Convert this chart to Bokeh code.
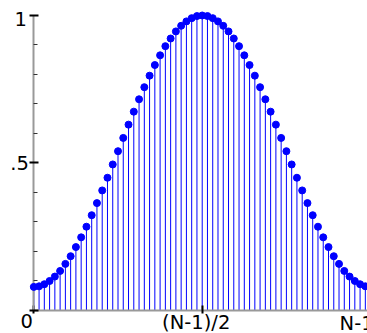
from bokeh.plotting import figure
from bokeh.models import Range1d, FixedTicker, Label
from bokeh.embed import file_html
from bokeh.resources import INLINE

# sample index n = 0 .. N-1 (N = 65)
n_index = list(range(65))
# window values (raised-cosine bell, 0.08 at the ends, 1 at the middle)
half_values = [0.080, 0.082, 0.089, 0.100, 0.115, 0.134, 0.158, 0.184, 0.215, 0.248,
               0.284, 0.323, 0.364, 0.407, 0.450, 0.495, 0.540, 0.585, 0.630, 0.674,
               0.716, 0.757, 0.796, 0.832, 0.865, 0.896, 0.922, 0.946, 0.965, 0.980,
               0.991, 0.998]
peak_value = [1.000]
window_values = half_values + peak_value + half_values[::-1]

x_ticks = [0, 32, 64]
x_tick_labels = ["0", "(N-1)/2", "N-1"]
y_ticks = [0, 0.5, 1]
y_minor_ticks = [0.1, 0.2, 0.3, 0.4, 0.6, 0.7, 0.8, 0.9]
y_tick_labels = ["", ".5", "1"]

BLUE = "#0000ff"
FONT = "DejaVu Sans"
FSIZE = "19.5px"

p = figure(width=367, height=333, output_backend="svg", toolbar_location=None,
           x_range=Range1d(-6.328, 63.41), y_range=Range1d(-0.078, 1.0508),
           min_border_left=0, min_border_right=0, min_border_top=0,
           min_border_bottom=0)
p.outline_line_color = None
p.xgrid.visible = False
p.ygrid.visible = False
p.background_fill_color = "white"
p.border_fill_color = "white"

p.segment(x0=n_index, y0=[0] * len(n_index), x1=n_index, y1=window_values,
          line_color=BLUE, line_width=1)
p.scatter(n_index, window_values, size=7, fill_color=BLUE, line_color=BLUE,
          level="overlay")

# y axis at x = 0
ya = p.yaxis[0]
ya.fixed_location = 0
ya.bounds = (0, 1)
ya.ticker = FixedTicker(ticks=y_ticks, minor_ticks=y_minor_ticks)
ya.axis_line_color = "#999999"
ya.axis_line_width = 2
ya.major_tick_line_color = "black"
ya.major_tick_line_width = 2
ya.major_tick_in = 5
ya.major_tick_out = 4
ya.minor_tick_line_color = "#333333"
ya.minor_tick_line_width = 1
ya.minor_tick_in = 4
ya.minor_tick_out = 0
ya.major_label_overrides = {t: "" for t in y_ticks}

# x axis at y = 0
xa = p.xaxis[0]
xa.fixed_location = 0
xa.bounds = (0, 64)
xa.ticker = FixedTicker(ticks=x_ticks, minor_ticks=[])
xa.axis_line_color = "#999999"
xa.axis_line_width = 2
xa.major_tick_line_color = "black"
xa.major_tick_line_width = 2
xa.major_tick_in = 5
xa.major_tick_out = 3
xa.minor_tick_in = 0
xa.minor_tick_out = 0
xa.major_label_overrides = {t: "" for t in x_ticks}

# tick labels
y_label_offsets = [(0, 0), (-5, 0), (-7, -3.5)]
for t, txt, (dx, dy) in zip(y_ticks, y_tick_labels, y_label_offsets):
    if txt:
        p.add_layout(Label(x=0, y=t, text=txt, text_align="right",
                           text_baseline="middle", x_offset=dx, y_offset=dy,
                           text_font=FONT, text_font_size=FSIZE, text_color="black"))

x_label_specs = [("center", -7, -10.5), ("center", -6, -12.5), ("left", -31, -13.5)]
for t, txt, (al, dx, dy) in zip(x_ticks, x_tick_labels, x_label_specs):
    p.add_layout(Label(x=t, y=0, text=txt, text_align=al,
                       text_baseline="middle", x_offset=dx, y_offset=dy,
                       text_font=FONT, text_font_size=FSIZE, text_color="black"))

open("out.html", "w").write(file_html(p, INLINE))
